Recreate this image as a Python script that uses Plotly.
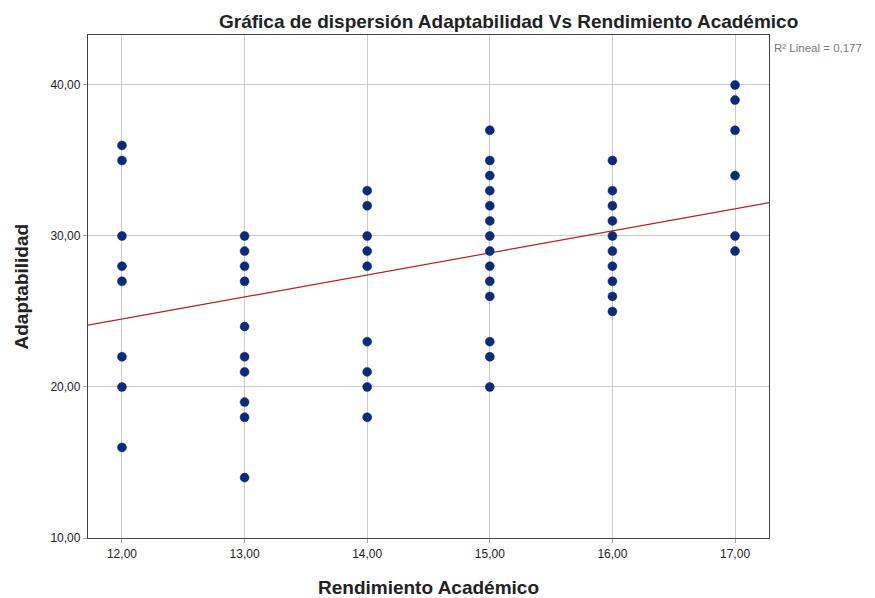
import plotly.graph_objects as go

# Data
rendimiento = [12]*8 + [13]*10 + [14]*9 + [15]*14 + [16]*10 + [17]*6
adaptabilidad = (
    [36, 35, 30, 28, 27, 22, 20, 16]
    + [30, 29, 28, 27, 24, 22, 21, 19, 18, 14]
    + [33, 32, 30, 29, 28, 23, 21, 20, 18]
    + [37, 35, 34, 33, 32, 31, 30, 29, 28, 27, 26, 23, 22, 20]
    + [35, 33, 32, 31, 30, 29, 28, 27, 26, 25]
    + [40, 39, 37, 34, 30, 29]
)
x_ticks = [12, 13, 14, 15, 16, 17]
y_ticks = [10, 20, 30, 40]
fit_intercept = 6.98
fit_slope = 1.46
r2_label = "R² Lineal = 0,177"
title_text = "Gráfica de dispersión Adaptabilidad Vs Rendimiento Académico"
x_title = "Rendimiento Académico"
y_title = "Adaptabilidad"

x_range = [11.723, 17.277]
y_range = [10, 43.31]

fit_x = x_range
fit_y = [fit_intercept + fit_slope * v for v in fit_x]

FONT = "Liberation Sans, Arial, sans-serif"
# page body has an 8px default margin, so the figure is drawn 8px in
OFF = 8
W, H = 875 - OFF, 598 - OFF
L, R, T, B = 88 - OFF, 106, 35 - OFF, 60
PW = W - L - R

fig = go.Figure()
fig.add_trace(go.Scatter(
    x=fit_x, y=fit_y, mode="lines",
    line=dict(color="#b22222", width=1.2), hoverinfo="skip", showlegend=False,
))
fig.add_trace(go.Scatter(
    x=rendimiento, y=adaptabilidad, mode="markers",
    marker=dict(color="#0c2a78", size=9, line=dict(color="#0c2a78", width=0.5)),
    showlegend=False,
))

axis_common = dict(
    tickformat=".2f",
    showgrid=True, gridcolor="#cccccc", gridwidth=1.2,
    showline=True, mirror=True, linecolor="#444444", linewidth=1.3,
    ticks="outside", ticklen=4, tickcolor="#aaaaaa",
    tickfont=dict(size=12, color="#222222", family=FONT),
    zeroline=False, automargin=False,
)

fig.update_layout(
    width=W, height=H,
    margin=dict(l=L, r=R, t=T, b=B, autoexpand=False),
    paper_bgcolor="white", plot_bgcolor="white",
    separators=",.",
    font=dict(family=FONT, color="#222222"),
    xaxis=dict(range=x_range, tickvals=x_ticks, **axis_common),
    yaxis=dict(range=y_range, tickvals=y_ticks, **axis_common),
    annotations=[
        dict(text="<b>" + title_text + "</b>",
             xref="paper", yref="paper", x=(508 - 88) / PW, y=1, yshift=1,
             xanchor="center", yanchor="bottom", showarrow=False,
             font=dict(size=19, family=FONT, color="#222222")),
        dict(text=r2_label, xref="paper", yref="paper", x=1, y=1, xshift=3, yshift=-5,
             xanchor="left", yanchor="top", showarrow=False,
             font=dict(size=11.5, family=FONT, color="#777777")),
        dict(text="<b>" + x_title + "</b>",
             xref="paper", yref="paper", x=0.5, y=0, yshift=-49,
             xanchor="center", yanchor="middle", showarrow=False,
             font=dict(size=19, family=FONT, color="#222222")),
        dict(text="<b>" + y_title + "</b>", textangle=-90,
             xref="paper", yref="paper", x=0, y=0.5, xshift=-(88 - 21),
             xanchor="center", yanchor="middle", showarrow=False,
             font=dict(size=19, family=FONT, color="#222222")),
    ],
)

fig.write_html("out.html")
